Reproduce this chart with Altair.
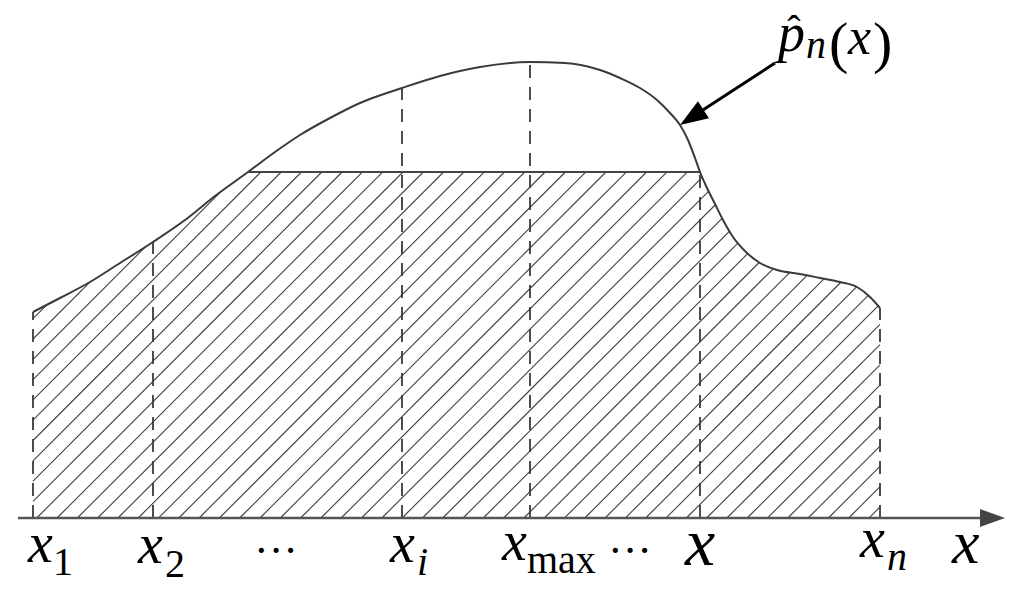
import math
import numpy as np
import pandas as pd
import altair as alt

# ---------------- data ----------------
# estimated density curve p̂_n(x) (arbitrary units)
curve_x = [0, 27, 57, 87, 120, 152, 182, 215, 242, 267, 297, 327, 369, 407, 447, 497, 532,
           567, 587, 607, 624, 637, 647, 655, 662, 667, 674, 682, 690, 700, 714, 727, 744,
           767, 787, 807, 824, 837, 847]
curve_y = [206, 220, 236, 255, 276, 298, 322, 346, 366, 383, 400, 415, 430, 442, 451, 456, 455,
           448, 440, 430, 418, 405, 393, 378, 360, 346, 330, 314, 298, 281, 265, 255, 248,
           244, 240, 236, 231, 221, 210]

# sample points marked on the x axis
marker_names = ["x1", "x2", "xi", "xmax", "x", "xn"]
marker_x = [0, 120, 369, 497, 667, 847]

# horizontal cut level
level_value = 346
level_from, level_to = 215, 667

# hatch settings (spacing in x units)
hatch_spacing = 20.3
hatch_phase = 3.7

# ---------------- helpers ----------------
def monotone_eval(xs, ys, xq):
    xs = np.asarray(xs, float)
    ys = np.asarray(ys, float)
    n = len(xs)
    h = np.diff(xs)
    s = np.diff(ys) / h
    t = np.zeros(n)
    sg = lambda v: -1.0 if v < 0 else 1.0
    for i in range(1, n - 1):
        h0, h1 = h[i - 1], h[i]
        s0, s1 = s[i - 1], s[i]
        p = (s0 * h1 + s1 * h0) / (h0 + h1)
        t[i] = (sg(s0) + sg(s1)) * min(abs(s0), abs(s1), 0.5 * abs(p))
    t[0] = (3 * s[0] - t[1]) / 2
    t[-1] = (3 * s[-1] - t[-2]) / 2
    xq = np.asarray(xq, float)
    idx = np.clip(np.searchsorted(xs, xq, side="right") - 1, 0, n - 2)
    x0 = xs[idx]; x1 = xs[idx + 1]; hh = x1 - x0
    y0 = ys[idx]; y1 = ys[idx + 1]
    t0 = t[idx]; t1 = t[idx + 1]
    u = (xq - x0) / hh
    h00 = 2 * u**3 - 3 * u**2 + 1
    h10 = u**3 - 2 * u**2 + u
    h01 = -2 * u**3 + 3 * u**2
    h11 = u**3 - u**2
    return h00 * y0 + h10 * hh * t0 + h01 * y1 + h11 * hh * t1

curve_df = pd.DataFrame({"x": curve_x, "y": curve_y})

# hatch segments clipped to region under min(curve, level)
xmin_r, xmax_r = curve_x[0], curve_x[-1]
Xd = np.arange(xmin_r, xmax_r + 1e-9, 0.05)
upper = np.minimum(monotone_eval(curve_x, curve_y, Xd), level_value)
segs = []
for k in range(-15, 50):
    b = -(hatch_phase + hatch_spacing * k)
    yl = Xd + b
    valid = (yl >= 0) & (yl <= upper)
    if not valid.any():
        continue
    xs_ = Xd[valid]
    segs.append({"x": xs_[0], "y": xs_[0] + b, "x2": xs_[-1], "y2": xs_[-1] + b})
hatch_df = pd.DataFrame(segs)

lookup = dict(zip(curve_x, curve_y))
markers_df = pd.DataFrame({"name": marker_names, "x": marker_x,
                           "y0": [0] * len(marker_x), "y1": [lookup[m] for m in marker_x]})
level_df = pd.DataFrame({"x": [level_from], "x2": [level_to], "y": [level_value]})

# ---------------- scales ----------------
xs = alt.Scale(domain=[-25, 983], nice=False, zero=False)
ys = alt.Scale(domain=[-69, 510], nice=False, zero=False)
X = lambda f="x": alt.X(f, type="quantitative", scale=xs, axis=None)
Y = lambda f="y": alt.Y(f, type="quantitative", scale=ys, axis=None)

hatch = alt.Chart(hatch_df).mark_rule(color="#404040", strokeWidth=1.1).encode(
    x=X(), y=Y(), x2="x2", y2="y2")

dashed = alt.Chart(markers_df).mark_rule(color="#3a3a3a", strokeWidth=1.8,
                                         strokeDash=[13, 9]).encode(
    x=X(), y=Y("y0"), y2="y1")

level = alt.Chart(level_df).mark_rule(color="#444444", strokeWidth=2).encode(
    x=X(), x2="x2", y=Y())

curve = alt.Chart(curve_df).mark_line(color="#3a3a3a", strokeWidth=2,
                                      interpolate="monotone").encode(x=X(), y=Y())

# axis with arrow
axis_df = pd.DataFrame({"x": [-15], "x2": [957], "y": [0]})
axis_line = alt.Chart(axis_df).mark_rule(color="#555555", strokeWidth=2.5).encode(
    x=X(), x2="x2", y=Y())

head_path = "M0,0 L-0.36,1 L0.36,1 Z"
axis_head_df = pd.DataFrame({"x": [972], "y": [0]})
axis_head = alt.Chart(axis_head_df).mark_point(shape=head_path, filled=True, opacity=1,
                                               color="#444444", size=2500, angle=90,
                                               strokeWidth=0).encode(x=X(), y=Y())

# pointer arrow to the curve
arr_start = (742, 455)
arr_tip = (647, 393)
dx = arr_tip[0] - arr_start[0]
dy_screen = -(arr_tip[1] - arr_start[1])
ang = (math.degrees(math.atan2(dx, -dy_screen)) + 360) % 360
L = math.hypot(dx, dy_screen)
head_len = 28
end_x = arr_tip[0] - dx / L * head_len * 0.6
end_y = arr_tip[1] - (arr_tip[1] - arr_start[1]) / L * head_len * 0.6
arr_df = pd.DataFrame({"x": [arr_start[0]], "y": [arr_start[1]], "x2": [end_x], "y2": [end_y]})
arr_line = alt.Chart(arr_df).mark_rule(color="#000000", strokeWidth=3).encode(
    x=X(), y=Y(), x2="x2", y2="y2")
arr_head_df = pd.DataFrame({"x": [arr_tip[0]], "y": [arr_tip[1]]})
arr_head = alt.Chart(arr_head_df).mark_point(shape=head_path, filled=True, opacity=1,
                                             color="#000000", size=(2 * head_len) ** 2,
                                             angle=ang, strokeWidth=0).encode(x=X(), y=Y())

# ---------------- labels ----------------
italic_labels = pd.DataFrame({
    "t": ["x", "x", "x", "x", "x", "x", "x", "i", "n", "p", "n", "x"],
    "x": [-5, 105, 357, 469, 827, 652, 919, 384, 854, 745, 773, 815],
    "y": [-44, -45, -44, -42, -39, -47, -45, -57, -52, 467, 460, 464],
    "s": [56, 56, 56, 56, 56, 68, 62, 40, 40, 54, 40, 52],
})
upright_labels = pd.DataFrame({
    "t": ["1", "2", "max", "(", ")"],
    "x": [20, 132, 494, 796, 840],
    "y": [-57, -59, -55, 456, 456],
    "s": [40, 40, 40, 58, 58],
})
center_labels = pd.DataFrame({
    "t": ["···", "···", "ˆ"],
    "x": [243, 597, 761],
    "y": [-47, -47, 475],
    "s": [44, 44, 40],
})

FONT = "Liberation Serif"
def text_layer(df, style, align):
    return alt.Chart(df).mark_text(font=FONT, fontStyle=style, align=align,
                                   baseline="alphabetic", color="#000000").encode(
        x=X(), y=Y(), text="t:N", size=alt.Size("s:Q", scale=None, legend=None))

labels = (text_layer(italic_labels, "italic", "left")
          + text_layer(upright_labels, "normal", "left")
          + text_layer(center_labels, "normal", "center"))

chart = alt.layer(hatch, dashed, level, curve, axis_line, axis_head, arr_line, arr_head,
                  labels).properties(
    width=1008, height=579, padding=0,
    autosize=alt.AutoSizeParams(type="none"),
    background="white",
).configure_view(strokeWidth=0)

chart.save("out.html", embed_options={"renderer": "svg", "actions": False})
